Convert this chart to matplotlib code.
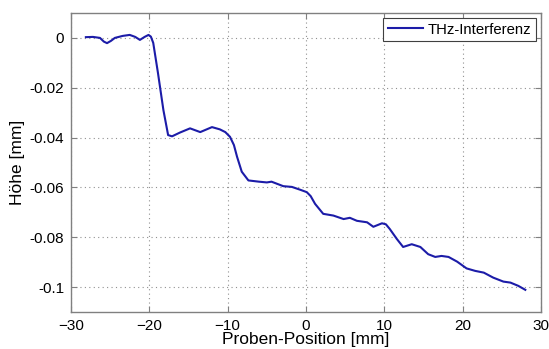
import matplotlib
matplotlib.use("Agg")
import matplotlib.pyplot as plt

position_mm = [-28.1, -27.2, -26.3, -25.8, -25.4, -24.9, -24.4, -23.4, -22.5, -21.8, -21.2, -20.6,
               -20.1, -19.8, -19.5, -18.9, -18.2, -17.6, -17.1, -16.1, -14.8, -13.5, -12.0, -11.0,
               -10.3, -9.7, -9.2, -8.8, -8.2, -7.35, -6.0, -5.0, -4.4, -2.9, -1.8, -0.77, 0.1,
               0.6, 1.16, 2.2, 3.5, 4.8, 5.6, 6.5, 7.8, 8.6, 9.7, 10.2, 10.7, 11.6, 12.4, 13.5,
               14.6, 15.6, 16.5, 17.3, 18.2, 19.3, 20.5, 21.6, 22.7, 23.9, 25.2, 26.1, 27.1, 28.0]
hoehe_mm = [0.0003, 0.0004, 0.0, -0.0015, -0.0021, -0.0012, 0.0, 0.0008, 0.0012, 0.0004, -0.0008, 0.0004,
            0.0012, 0.0005, -0.002, -0.014, -0.029, -0.039, -0.0395, -0.038, -0.0363, -0.0378, -0.0358, -0.0367,
            -0.0378, -0.0397, -0.043, -0.0477, -0.0537, -0.0572, -0.0577, -0.058, -0.0577, -0.0595, -0.0598, -0.0609, -0.0619,
            -0.0635, -0.0666, -0.0706, -0.0713, -0.0727, -0.0722, -0.0734, -0.074, -0.0758, -0.0744, -0.0748, -0.0767, -0.0807, -0.0839, -0.0828,
            -0.0839, -0.0868, -0.0879, -0.0875, -0.0879, -0.0898, -0.0925, -0.0935, -0.0942, -0.0962, -0.0978, -0.0982, -0.0995, -0.1011]

x_ticks = [-30, -20, -10, 0, 10, 20, 30]
y_ticks = [0, -0.02, -0.04, -0.06, -0.08, -0.1]
y_ticklabels = ["0", "-0.02", "-0.04", "-0.06", "-0.08", "-0.1"]

plt.rcParams['font.family'] = ['Liberation Sans', 'DejaVu Sans']

fig = plt.figure(figsize=(5.49, 3.49), dpi=100)
ax = fig.add_axes([0.1293, 0.106, 0.8561, 0.8568])
ax.plot(position_mm, hoehe_mm, color='#1c1ca8', lw=1.5, label='THz-Interferenz')
ax.set_xlim(-30, 30)
ax.set_ylim(-0.11, 0.01)
ax.set_xticks(x_ticks)
ax.set_yticks(y_ticks)
ax.set_yticklabels(y_ticklabels)
ax.grid(True, linestyle=(0, (1, 3)), color='#909090', lw=0.8)
ax.tick_params(direction='in', top=True, right=True, labelsize=11, colors='#808080',
               labelcolor='black', length=4, pad=5)
for s in ax.spines.values():
    s.set_color('#808080')
    s.set_linewidth(1.0)
ax.set_xlabel('Proben-Position [mm]', fontsize=12.5, labelpad=-1)
ax.set_ylabel('Höhe [mm]', fontsize=12.5, labelpad=3)
leg = ax.legend(loc='upper right', fontsize=10.7, fancybox=False, framealpha=1,
                edgecolor='#404040', borderpad=0.3, handlelength=2.4, handletextpad=0.3,
                borderaxespad=0.35)
leg.get_frame().set_linewidth(0.8)
fig.savefig('out.png', dpi=100)
